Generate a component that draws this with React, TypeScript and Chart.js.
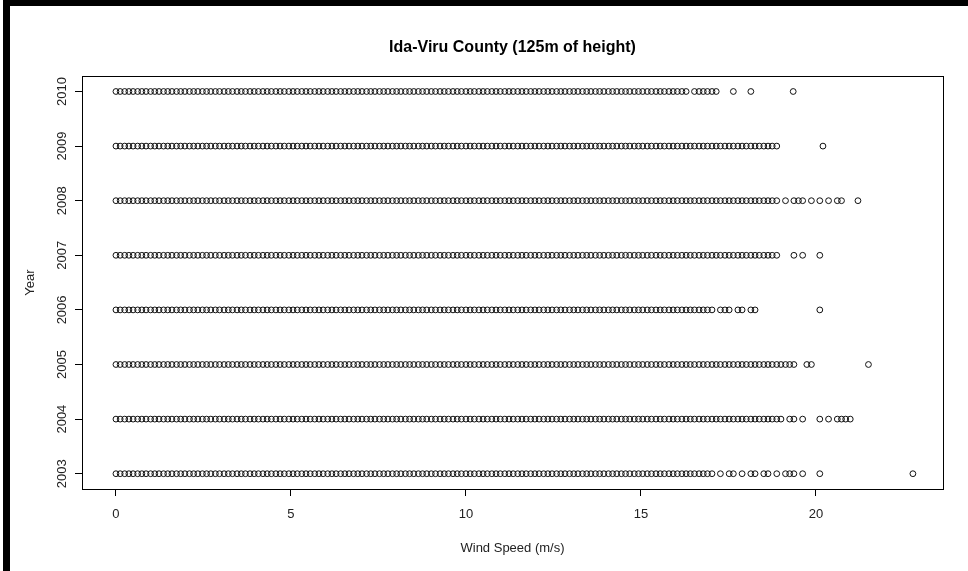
import { useEffect, useRef } from "react";
import { Chart, registerables } from "chart.js";

Chart.register(...registerables);

// ---- data ----
const years = [2003, 2004, 2005, 2006, 2007, 2008, 2009, 2010];

// wind speeds (m/s) observed in every year (lower, dense part)
const commonSpeeds = [
  0, 0.12, 0.25, 0.37, 0.49, 0.62, 0.74, 0.86, 0.99, 1.11,
  1.23, 1.36, 1.48, 1.6, 1.73, 1.85, 1.97, 2.1, 2.22, 2.34,
  2.47, 2.59, 2.71, 2.84, 2.96, 3.09, 3.21, 3.33, 3.46, 3.58,
  3.7, 3.83, 3.95, 4.07, 4.2, 4.32, 4.44, 4.57, 4.69, 4.81,
  4.94, 5.06, 5.18, 5.31, 5.43, 5.55, 5.68, 5.8, 5.92, 6.05,
  6.17, 6.29, 6.42, 6.54, 6.66, 6.79, 6.91, 7.03, 7.16, 7.28,
  7.4, 7.53, 7.65, 7.77, 7.9, 8.02, 8.14, 8.27, 8.39, 8.51,
  8.64, 8.76, 8.88, 9.01, 9.13, 9.26, 9.38, 9.5, 9.63, 9.75,
  9.87, 10.0, 10.12, 10.24, 10.37, 10.49, 10.61, 10.74, 10.86, 10.98,
  11.11, 11.23, 11.35, 11.48, 11.6, 11.72, 11.85, 11.97, 12.09, 12.22,
  12.34, 12.46, 12.59, 12.71, 12.83, 12.96, 13.08, 13.2, 13.33, 13.45,
  13.57, 13.7, 13.82, 13.94, 14.07, 14.19, 14.31, 14.44, 14.56, 14.68,
  14.81, 14.93, 15.05, 15.18, 15.3, 15.43, 15.55, 15.67, 15.8, 15.92,
  16.04, 16.17, 16.29,
];

// upper speeds per year
const upper2003 = [16.41, 16.53, 16.66, 16.78, 16.9, 17.03, 17.27, 17.52, 17.64, 17.89, 18.14, 18.26, 18.51, 18.63, 18.88, 19.13, 19.25, 19.37, 19.62, 20.11, 22.77];
const upper2004 = [16.41, 16.53, 16.66, 16.78, 16.9, 17.03, 17.15, 17.27, 17.4, 17.52, 17.64, 17.77, 17.89, 18.01, 18.14, 18.26, 18.38, 18.51, 18.63, 18.75, 18.88, 19.0, 19.25, 19.37, 19.62, 20.11, 20.36, 20.61, 20.73, 20.85, 20.98];
const upper2005 = [16.41, 16.53, 16.66, 16.78, 16.9, 17.03, 17.15, 17.27, 17.4, 17.52, 17.64, 17.77, 17.89, 18.01, 18.14, 18.26, 18.38, 18.51, 18.63, 18.75, 18.88, 19.0, 19.13, 19.25, 19.37, 19.74, 19.87, 21.5];
const upper2006 = [16.41, 16.53, 16.66, 16.78, 16.9, 17.03, 17.27, 17.4, 17.52, 17.77, 17.89, 18.14, 18.26, 20.11];
const upper2007 = [16.41, 16.53, 16.66, 16.78, 16.9, 17.03, 17.15, 17.27, 17.4, 17.52, 17.64, 17.77, 17.89, 18.01, 18.14, 18.26, 18.38, 18.51, 18.63, 18.75, 18.88, 19.37, 19.62, 20.11];
const upper2008 = [16.41, 16.53, 16.66, 16.78, 16.9, 17.03, 17.15, 17.27, 17.4, 17.52, 17.64, 17.77, 17.89, 18.01, 18.14, 18.26, 18.38, 18.51, 18.63, 18.75, 18.88, 19.13, 19.37, 19.5, 19.62, 19.87, 20.11, 20.36, 20.61, 20.73, 21.2];
const upper2009 = [16.41, 16.53, 16.66, 16.78, 16.9, 17.03, 17.15, 17.27, 17.4, 17.52, 17.64, 17.77, 17.89, 18.01, 18.14, 18.26, 18.38, 18.51, 18.63, 18.75, 18.88, 20.2];
const upper2010 = [16.53, 16.66, 16.78, 16.9, 17.03, 17.15, 17.64, 18.14, 19.35];

const upperByYear = [upper2003, upper2004, upper2005, upper2006, upper2007, upper2008, upper2009, upper2010];

const titleText = "Ida-Viru County (125m of height)";
const xTitle = "Wind Speed (m/s)";
const yTitle = "Year";

const FONT = "'Liberation Sans', Arial, Helvetica, sans-serif";

const framePlugin = {
  id: "rframe",
  beforeDraw(chart: any) {
    const { ctx, width, height } = chart;
    ctx.save();
    ctx.fillStyle = "#ffffff";
    ctx.fillRect(0, 0, width, height);
    ctx.restore();
  },
  afterDraw(chart: any) {
    const { ctx, chartArea: a, width, height } = chart;
    ctx.save();
    ctx.strokeStyle = "#000";
    ctx.lineWidth = 1;
    const l = Math.round(a.left) + 0.5;
    const t = Math.round(a.top) + 0.5;
    const r = Math.round(a.right) + 0.5;
    const b = Math.round(a.bottom) + 0.5;
    ctx.strokeRect(l, t, r - l, b - t);
    ctx.fillStyle = "#000";
    ctx.fillRect(3, 0, 7, height);
    ctx.fillRect(3, 0, width - 3, 6);
    ctx.restore();
  },
};

export default function App() {
  const canvasRef = useRef<HTMLCanvasElement | null>(null);

  useEffect(() => {
    const canvas = canvasRef.current;
    if (!canvas) return;
    const points: { x: number; y: number }[] = [];
    years.forEach((yr, i) => {
      commonSpeeds.concat(upperByYear[i]).forEach((s) => points.push({ x: s, y: yr }));
    });

    const chart = new Chart(canvas, {
      type: "scatter",
      data: {
        datasets: [
          {
            data: points,
            pointStyle: "circle",
            pointRadius: 2.9,
            pointBorderWidth: 1,
            pointBorderColor: "#111",
            pointBackgroundColor: "rgba(0,0,0,0)",
            showLine: false,
          },
        ],
      },
      options: {
        animation: false,
        responsive: false,
        events: [],
        layout: { padding: { left: 0, right: 25, top: 0, bottom: 0 } },
        plugins: {
          legend: { display: false },
          tooltip: { enabled: false },
          title: {
            display: true,
            text: titleText,
            fullSize: false,
            color: "#000",
            font: { family: FONT, size: 16, weight: "bold" },
            padding: { top: 38, bottom: 19 },
          },
        },
        scales: {
          x: {
            type: "linear",
            min: -0.97,
            max: 23.63,
            afterFit: (s: any) => {
              s.height = 82;
            },
            border: { display: false },
            grid: { display: true, drawOnChartArea: false, drawTicks: true, tickLength: 7, color: "#000" },
            ticks: {
              stepSize: 5,
              includeBounds: false,
              color: "#222",
              padding: 11,
              font: { family: FONT, size: 13 },
              callback: (v: any) => String(v),
            },
            title: {
              display: true,
              text: xTitle,
              color: "#222",
              font: { family: FONT, size: 13 },
              padding: { top: 0, bottom: 15 },
            },
          },
          y: {
            type: "linear",
            min: 2002.72,
            max: 2010.28,
            afterFit: (s: any) => {
              s.width = 82;
            },
            border: { display: false },
            grid: { display: true, drawOnChartArea: false, drawTicks: true, tickLength: 7, color: "#000" },
            ticks: {
              stepSize: 1,
              includeBounds: false,
              autoSkip: false,
              minRotation: 90,
              maxRotation: 90,
              crossAlign: "center",
              padding: -2,
              color: "#222",
              font: { family: FONT, size: 13 },
              callback: (v: any) => String(v),
            },
            title: {
              display: true,
              text: yTitle,
              color: "#222",
              font: { family: FONT, size: 13 },
              padding: { top: 23, bottom: 0 },
            },
          },
        },
      },
      plugins: [framePlugin],
    } as any);

    return () => chart.destroy();
  }, []);

  return (
    <div style={{ position: "fixed", left: 0, top: 0, width: 968, height: 571, background: "#fff" }}>
      <canvas ref={canvasRef} width={968} height={571} style={{ display: "block" }} />
    </div>
  );
}
